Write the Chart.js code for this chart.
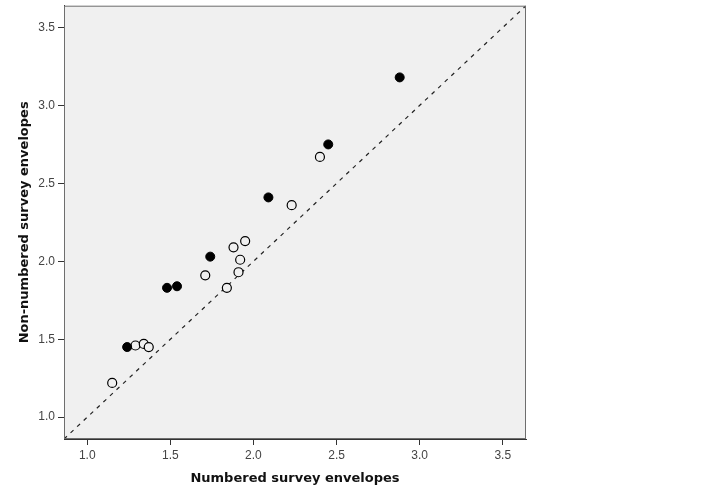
<!DOCTYPE html>
<html lang="en">
<head>
    <meta charset="UTF-8">
    <title>Numbered vs non-numbered survey envelopes</title>
    <script src="https://cdn.jsdelivr.net/npm/chart.js"></script>
    <style>
        * { margin: 0; padding: 0; box-sizing: border-box; }
        body { background: #ffffff; width: 702px; height: 501px; overflow: hidden; }
        .chart-box { position: relative; width: 702px; height: 501px; }
    </style>
</head>
<body>
    <div class="chart-box">
        <canvas id="scatterChart"></canvas>
    </div>

    <script>
        // Data
        const filledX = [2.88, 2.45, 2.09, 1.74, 1.48, 1.54, 1.24];
        const filledY = [3.18, 2.75, 2.41, 2.03, 1.83, 1.84, 1.45];
        const openX = [2.40, 2.23, 1.95, 1.88, 1.92, 1.91, 1.71, 1.84, 1.29, 1.34, 1.37, 1.15];
        const openY = [2.67, 2.36, 2.13, 2.09, 2.01, 1.93, 1.91, 1.83, 1.46, 1.47, 1.45, 1.22];
        const axisMin = 0.86;
        const axisMax = 3.64;
        const tickValues = [1.0, 1.5, 2.0, 2.5, 3.0, 3.5];

        function toPoints(xs, ys) {
            return xs.map((x, i) => ({ x: x, y: ys[i] }));
        }

        // Grey plot background and frame
        const plotFrame = {
            id: 'plotFrame',
            beforeDraw(chart) {
                const a = chart.chartArea;
                const ctx = chart.ctx;
                ctx.save();
                ctx.fillStyle = '#f0f0f0';
                ctx.fillRect(a.left, a.top, a.right - a.left, a.bottom - a.top);
                ctx.restore();
            },
            afterDraw(chart) {
                const a = chart.chartArea;
                const ctx = chart.ctx;
                ctx.save();
                ctx.strokeStyle = '#6e6e6e';
                ctx.lineWidth = 1;
                ctx.strokeRect(a.left + 0.5, a.top + 0.5, a.right - a.left - 1, a.bottom - a.top - 1);
                ctx.restore();
            }
        };

        const tickFont = { family: 'Liberation Sans', size: 12 };
        const titleFont = { family: 'DejaVu Sans', size: 13, weight: 'bold' };

        function fixedTicks(scale) {
            scale.ticks = tickValues.map(v => ({ value: v }));
        }

        new Chart(document.getElementById('scatterChart').getContext('2d'), {
            type: 'scatter',
            data: {
                datasets: [{
                    label: 'Reference',
                    data: [{ x: axisMin, y: axisMin }, { x: axisMax, y: axisMax }],
                    showLine: true,
                    borderColor: '#222222',
                    borderWidth: 1.2,
                    borderDash: [4, 5],
                    pointRadius: 0,
                    order: 3
                }, {
                    label: 'Open',
                    data: toPoints(openX, openY),
                    backgroundColor: '#f0f0f0',
                    borderColor: '#000000',
                    borderWidth: 1.2,
                    pointRadius: 4.5,
                    order: 2
                }, {
                    label: 'Filled',
                    data: toPoints(filledX, filledY),
                    backgroundColor: '#000000',
                    borderColor: '#000000',
                    borderWidth: 1,
                    pointRadius: 4.5,
                    order: 1
                }]
            },
            options: {
                responsive: true,
                maintainAspectRatio: false,
                animation: false,
                layout: { padding: { left: 0, right: 176, top: 0, bottom: 0 } },
                plugins: {
                    legend: { display: false },
                    tooltip: { enabled: false }
                },
                scales: {
                    x: {
                        type: 'linear',
                        min: axisMin,
                        max: axisMax,
                        afterBuildTicks: fixedTicks,
                        afterFit(scale) { scale.height = 62; },
                        border: { display: true, color: '#333333', width: 1 },
                        grid: { display: true, drawOnChartArea: false, drawTicks: true, tickLength: 6, color: '#333333' },
                        ticks: { font: tickFont, color: '#444444', padding: 3, maxRotation: 0, callback: v => v.toFixed(1) },
                        title: { display: true, text: 'Numbered survey envelopes', font: titleFont, color: '#111111', padding: { top: 0, bottom: 15 } }
                    },
                    y: {
                        type: 'linear',
                        min: axisMin,
                        max: axisMax,
                        afterBuildTicks: fixedTicks,
                        afterFit(scale) {
                            scale.width = 64;
                            scale.paddingTop = 5;
                            scale.paddingBottom = 0;
                        },
                        border: { display: true, color: '#333333', width: 1 },
                        grid: { display: true, drawOnChartArea: false, drawTicks: true, tickLength: 6, color: '#333333' },
                        ticks: { font: tickFont, color: '#444444', padding: 3, callback: v => v.toFixed(1) },
                        title: { display: true, text: 'Non-numbered survey envelopes', font: titleFont, color: '#111111', padding: { top: 17, bottom: 0 } }
                    }
                }
            },
            plugins: [plotFrame]
        });
    </script>
</body>
</html>
